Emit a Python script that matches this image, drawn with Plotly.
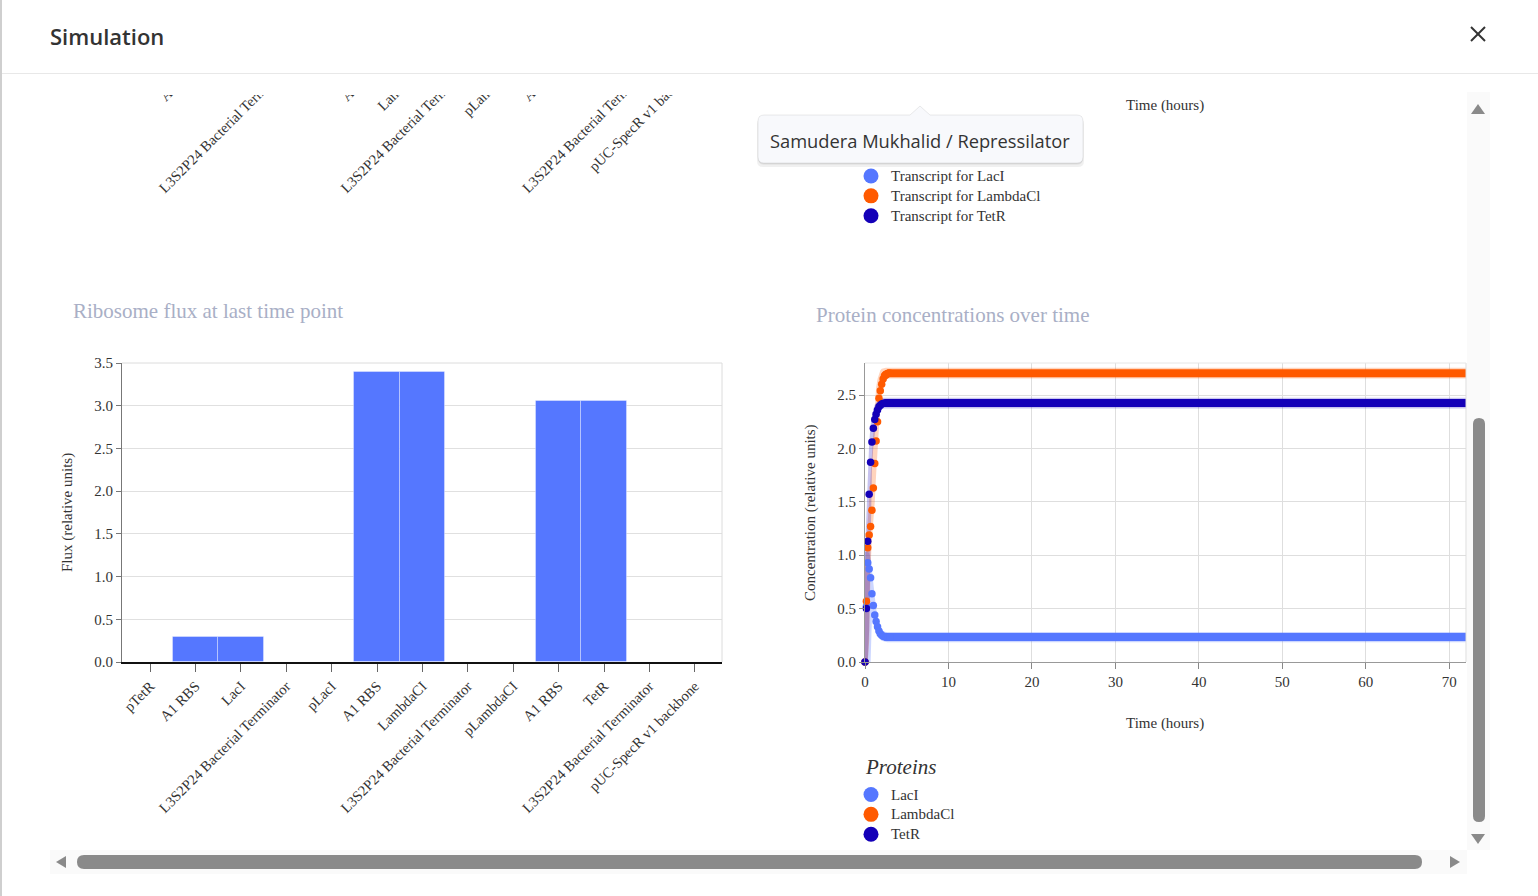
import plotly.graph_objects as go

W, H = 1538, 896


def px(x):
    return x / W


def py(y):
    return 1 - y / H


# ---------------- data ----------------
flux_parts = ["pTetR", "A1 RBS", "LacI", "L3S2P24 Bacterial Terminator", "pLacI",
              "A1 RBS", "LambdaCI", "L3S2P24 Bacterial Terminator", "pLambdaCI",
              "A1 RBS", "TetR", "L3S2P24 Bacterial Terminator", "pUC-SpecR v1 backbone"]
flux_values = [0, 0.29, 0.29, 0, 0, 3.39, 3.39, 0, 0, 3.05, 3.05, 0, 0]
flux_ticks = [0.0, 0.5, 1.0, 1.5, 2.0, 2.5, 3.0, 3.5]

time_hours = [0, 0.17, 0.33, 0.5, 0.67, 0.83, 1.0, 1.17, 1.33, 1.5, 1.67, 1.83,
              2.0, 2.17, 2.33, 2.5, 2.67, 2.83, 3.0, 72]
time_ticks = [0, 10, 20, 30, 40, 50, 60, 70]
conc_ticks = [0.0, 0.5, 1.0, 1.5, 2.0, 2.5]

laci = [0, 0.52, 0.93, 0.87, 0.79, 0.64, 0.53, 0.44, 0.38, 0.33, 0.29, 0.265,
        0.25, 0.242, 0.237, 0.235, 0.234, 0.233, 0.233, 0.233]
laci_lo = [0, 0, 0, 0, 0, 0.42, 0.36, 0.31, 0.27, 0.245, 0.225, 0.21,
           0.2, 0.195, 0.19, 0.188, 0.186, 0.185, 0.185, 0.185]
laci_hi = [1.03, 1.03, 1.03, 1.02, 0.97, 0.86, 0.72, 0.6, 0.5, 0.43, 0.37, 0.33,
           0.30, 0.29, 0.285, 0.282, 0.28, 0.28, 0.28, 0.28]

lambdaci = [0, 0.57, 1.07, 1.19, 1.27, 1.42, 1.63, 1.86, 2.07, 2.25, 2.47, 2.54,
            2.60, 2.65, 2.68, 2.695, 2.70, 2.705, 2.705, 2.705]
lambdaci_lo = [0, 0, 0, 0.2, 0.9, 1.15, 1.3, 1.5, 1.75, 2.0, 2.22, 2.4,
               2.5, 2.58, 2.62, 2.64, 2.65, 2.655, 2.655, 2.655]
lambdaci_hi = [0.9, 1.12, 1.38, 1.55, 1.75, 2.0, 2.24, 2.43, 2.57, 2.65, 2.7, 2.73,
               2.745, 2.75, 2.755, 2.755, 2.755, 2.755, 2.755, 2.755]

tetr = [0, 0.50, 1.13, 1.57, 1.87, 2.06, 2.19, 2.27, 2.32, 2.36, 2.39, 2.405,
        2.415, 2.42, 2.425, 2.425, 2.425, 2.425, 2.425, 2.425]
tetr_lo = [0, 0, 0, 0.3, 1.2, 1.8, 2.02, 2.15, 2.24, 2.3, 2.34, 2.36,
           2.37, 2.375, 2.375, 2.375, 2.375, 2.375, 2.375, 2.375]
tetr_hi = [1.03, 1.45, 1.8, 2.05, 2.22, 2.31, 2.37, 2.41, 2.43, 2.45, 2.46, 2.47,
           2.475, 2.475, 2.475, 2.475, 2.475, 2.475, 2.475, 2.475]

protein_names = ["LacI", "LambdaCl", "TetR"]
transcript_names = ["Transcript for LacI", "Transcript for LambdaCl", "Transcript for TetR"]
colors = ["#5577ff", "#ff5a00", "#1400b8"]
band_colors = ["rgba(85,119,255,0.3)", "rgba(255,90,0,0.26)", "rgba(20,0,184,0.24)"]

SERIF = "Liberation Serif"
SANS = "Open Sans"

fig = go.Figure()

idx = list(range(len(flux_parts)))

# hidden chart above (only its labels peek out)
fig.add_trace(go.Bar(x=idx, y=flux_values, xaxis="x3", yaxis="y3", opacity=0,
                     showlegend=False, hoverinfo="skip"))

# ribosome flux bars
fig.add_trace(go.Bar(x=idx, y=flux_values, xaxis="x", yaxis="y",
                     marker=dict(color="#5577ff", line=dict(color="rgba(255,255,255,0.35)", width=1)),
                     showlegend=False, hoverinfo="skip"))

# protein bands + dots
series = [(laci, laci_lo, laci_hi), (lambdaci, lambdaci_lo, lambdaci_hi), (tetr, tetr_lo, tetr_hi)]
for (vals, lo, hi), c, bc in zip(series, colors, band_colors):
    fig.add_trace(go.Scatter(x=time_hours, y=lo, mode="lines", line=dict(width=0, color=bc),
                             xaxis="x2", yaxis="y2", showlegend=False, hoverinfo="skip"))
    fig.add_trace(go.Scatter(x=time_hours, y=hi, mode="lines", line=dict(width=0, color=bc),
                             fill="tonexty", fillcolor=bc,
                             xaxis="x2", yaxis="y2", showlegend=False, hoverinfo="skip"))
for vals, c in zip([laci, lambdaci, tetr], colors):
    fig.add_trace(go.Scatter(x=time_hours[14:], y=vals[14:], mode="lines",
                             line=dict(width=8, color=c),
                             xaxis="x2", yaxis="y2", showlegend=False, hoverinfo="skip"))
    fig.add_trace(go.Scatter(x=time_hours[:19], y=vals[:19], mode="markers",
                             marker=dict(size=7.5, color=c), cliponaxis=False,
                             xaxis="x2", yaxis="y2", showlegend=False, hoverinfo="skip"))

# legend entries
LBL = '<span style="font-size:15px">{}</span>'
for name, c in zip(protein_names, colors):
    fig.add_trace(go.Scatter(x=[None], y=[None], mode="markers", name=LBL.format(name),
                             marker=dict(size=15, color=c), xaxis="x2", yaxis="y2",
                             legend="legend"))
for name, c in zip(transcript_names, colors):
    fig.add_trace(go.Scatter(x=[None], y=[None], mode="markers", name=LBL.format(name),
                             marker=dict(size=15, color=c), xaxis="x2", yaxis="y2",
                             legend="legend2"))

tickfont = dict(family=SERIF, size=14.6, color="#333")
numfont = dict(family=SERIF, size=15, color="#333")

fig.update_layout(
    width=W, height=H, autosize=False, template="none",
    margin=dict(l=0, r=0, t=0, b=0, pad=0),
    paper_bgcolor="white", plot_bgcolor="white",
    bargap=0, barmode="group", showlegend=True,
    xaxis=dict(domain=[px(122), px(722)], range=[-0.62, 12.6], anchor="y",
               tickmode="array", tickvals=idx, ticktext=flux_parts, tickangle=-45,
               ticks="outside", ticklen=8, tickcolor="#666", tickwidth=1,
               showline=True, linecolor="#111", linewidth=2, showgrid=False,
               zeroline=False, tickfont=tickfont, automargin=False),
    yaxis=dict(domain=[py(662), py(363)], range=[0, 3.5], anchor="x",
               tickmode="array", tickvals=flux_ticks, tickformat=".1f",
               ticks="outside", ticklen=5, tickcolor="#777",
               showline=True, linecolor="#777", linewidth=1,
               showgrid=True, gridcolor="#e0e0e0", zeroline=False,
               tickfont=numfont, automargin=False),
    xaxis3=dict(domain=[px(122), px(722)], range=[-0.62, 12.6], anchor="y3",
                tickmode="array", tickvals=idx, ticktext=flux_parts, tickangle=-45,
                ticks="outside", ticklen=8, tickcolor="#666",
                showline=False, showgrid=False, zeroline=False,
                tickfont=tickfont, automargin=False),
    yaxis3=dict(domain=[py(43), py(20)], range=[0, 3.5], anchor="x3", visible=False),
    xaxis2=dict(domain=[px(865), px(1466)], range=[0, 72], anchor="y2",
                tickmode="array", tickvals=time_ticks,
                ticks="outside", ticklen=6, tickcolor="#888",
                showline=True, linecolor="#999", linewidth=1,
                showgrid=True, gridcolor="#dedede", zeroline=False,
                tickfont=numfont, automargin=False),
    yaxis2=dict(domain=[py(662), py(363)], range=[0, 2.8], anchor="x2",
                tickmode="array", tickvals=conc_ticks, tickformat=".1f",
                ticks="outside", ticklen=5, tickcolor="#888",
                showline=True, linecolor="#999", linewidth=1,
                showgrid=True, gridcolor="#dedede", zeroline=False,
                tickfont=numfont, automargin=False),
    legend=dict(x=px(851), y=py(779.5), xanchor="left", yanchor="top",
                font=dict(family=SERIF, size=13, color="#333"), traceorder="normal",
                bgcolor="rgba(0,0,0,0)", itemsizing="trace", tracegroupgap=0),
    legend2=dict(x=px(851), y=py(161), xanchor="left", yanchor="top",
                 font=dict(family=SERIF, size=13, color="#333"), traceorder="normal",
                 bgcolor="rgba(0,0,0,0)", itemsizing="trace", tracegroupgap=0),
)


def rounded(x0, y0, x1, y1, r):
    pts = [
        f"M{px(x0 + r)},{py(y0)}", f"L{px(x1 - r)},{py(y0)}",
        f"Q{px(x1)},{py(y0)} {px(x1)},{py(y0 + r)}", f"L{px(x1)},{py(y1 - r)}",
        f"Q{px(x1)},{py(y1)} {px(x1 - r)},{py(y1)}", f"L{px(x0 + r)},{py(y1)}",
        f"Q{px(x0)},{py(y1)} {px(x0)},{py(y1 - r)}", f"L{px(x0)},{py(y0 + r)}",
        f"Q{px(x0)},{py(y0)} {px(x0 + r)},{py(y0)}", "Z"]
    return " ".join(pts)


def tooltip(x0, y0, x1, y1, r, ax, dy=0):
    y0 += dy
    y1 += dy
    pts = [
        f"M{px(x0 + r)},{py(y0)}", f"L{px(ax - 10)},{py(y0)}", f"L{px(ax)},{py(y0 - 9)}",
        f"L{px(ax + 10)},{py(y0)}", f"L{px(x1 - r)},{py(y0)}",
        f"Q{px(x1)},{py(y0)} {px(x1)},{py(y0 + r)}", f"L{px(x1)},{py(y1 - r)}",
        f"Q{px(x1)},{py(y1)} {px(x1 - r)},{py(y1)}", f"L{px(x0 + r)},{py(y1)}",
        f"Q{px(x0)},{py(y1)} {px(x0)},{py(y1 - r)}", f"L{px(x0)},{py(y0 + r)}",
        f"Q{px(x0)},{py(y0)} {px(x0 + r)},{py(y0)}", "Z"]
    return " ".join(pts)


def tri(points):
    return "M" + " L".join(f"{px(a)},{py(b)}" for a, b in points) + " Z"


P = dict(xref="paper", yref="paper", layer="above")
shapes = [
    # plot borders
    dict(type="line", x0=px(722), x1=px(722), y0=py(363), y1=py(662), line=dict(color="#dcdcdc", width=1), **P),
    dict(type="line", x0=px(122), x1=px(722), y0=py(363), y1=py(363), line=dict(color="#dcdcdc", width=1), **P),
    dict(type="line", x0=px(1466), x1=px(1466), y0=py(363), y1=py(662), line=dict(color="#dcdcdc", width=1), **P),
    dict(type="line", x0=px(865), x1=px(1466), y0=py(363), y1=py(363), line=dict(color="#e6e6e6", width=1), **P),
    # header cover
    dict(type="rect", x0=0, x1=1, y0=py(95), y1=1, fillcolor="white", line=dict(width=0), **P),
    dict(type="line", x0=0, x1=1, y0=py(73.5), y1=py(73.5), line=dict(color="#e8e8e8", width=1), **P),
    dict(type="line", x0=px(1), x1=px(1), y0=0, y1=1, line=dict(color="#cfcfcf", width=2), **P),
    # close icon
    dict(type="line", x0=px(1471), x1=px(1485), y0=py(27), y1=py(41), line=dict(color="#333", width=2), **P),
    dict(type="line", x0=px(1485), x1=px(1471), y0=py(27), y1=py(41), line=dict(color="#333", width=2), **P),
    # scroll tracks
    dict(type="rect", x0=px(1467), x1=px(1490), y0=py(850), y1=py(92), fillcolor="#fafafa", line=dict(width=0), **P),
    dict(type="rect", x0=px(50), x1=px(1467), y0=py(874), y1=py(850), fillcolor="#fafafa", line=dict(width=0), **P),
    dict(type="path", path=rounded(1473, 418, 1485, 822, 6), fillcolor="#8a8a8a", line=dict(width=0), **P),
    dict(type="path", path=rounded(77, 855, 1422, 869, 7), fillcolor="#8a8a8a", line=dict(width=0), **P),
    dict(type="path", path=tri([(1478, 104), (1471, 114), (1485, 114)]), fillcolor="#8a8a8a", line=dict(width=0), **P),
    dict(type="path", path=tri([(1471, 834), (1485, 834), (1478, 844)]), fillcolor="#8a8a8a", line=dict(width=0), **P),
    dict(type="path", path=tri([(56, 862), (66, 856), (66, 868)]), fillcolor="#8a8a8a", line=dict(width=0), **P),
    dict(type="path", path=tri([(1460, 862), (1450, 856), (1450, 868)]), fillcolor="#8a8a8a", line=dict(width=0), **P),
    # tooltip with shadow
    dict(type="path", path=tooltip(757, 115, 1084, 164, 6, 920, dy=3), fillcolor="rgba(0,0,0,0.06)", line=dict(width=0), **P),
    dict(type="path", path=tooltip(758, 115, 1083, 163, 6, 920, dy=1.5), fillcolor="rgba(0,0,0,0.08)", line=dict(width=0), **P),
    dict(type="path", path=tooltip(758, 115, 1083, 163, 6, 920), fillcolor="#f8f9fc",
         line=dict(color="rgba(0,0,0,0.08)", width=1), **P),
]

A = dict(xref="paper", yref="paper", showarrow=False)
annotations = [
    dict(text="Simulation", x=px(48), y=py(36), xanchor="left", yanchor="middle",
         font=dict(family=SANS, size=22, color="#333", weight=600), **A),
    dict(text="Samudera Mukhalid / Repressilator", x=px(920), y=py(140), xanchor="center", yanchor="middle",
         font=dict(family=SANS, size=18.3, color="#333"), **A),
    dict(text="Ribosome flux at last time point", x=px(71), y=py(311), xanchor="left", yanchor="middle",
         font=dict(family=SERIF, size=21, color="#a9afc6"), **A),
    dict(text="Protein concentrations over time", x=px(814), y=py(315), xanchor="left", yanchor="middle",
         font=dict(family=SERIF, size=21, color="#a9afc6"), **A),
    dict(text="Flux (relative units)", x=px(67), y=py(513), textangle=-90, xanchor="center", yanchor="middle",
         font=dict(family=SERIF, size=15, color="#333"), **A),
    dict(text="Concentration (relative units)", x=px(810), y=py(513), textangle=-90, xanchor="center", yanchor="middle",
         font=dict(family=SERIF, size=15, color="#333"), **A),
    dict(text="Time (hours)", x=px(1165), y=py(723), xanchor="center", yanchor="middle",
         font=dict(family=SERIF, size=15, color="#333"), **A),
    dict(text="Time (hours)", x=px(1165), y=py(105), xanchor="center", yanchor="middle",
         font=dict(family=SERIF, size=15, color="#333"), **A),
    dict(text="<i>Proteins</i>", x=px(863), y=py(767), xanchor="left", yanchor="middle",
         font=dict(family=SERIF, size=21, color="#333"), **A),
]

fig.update_layout(shapes=shapes, annotations=annotations)
fig.write_html("out.html")
